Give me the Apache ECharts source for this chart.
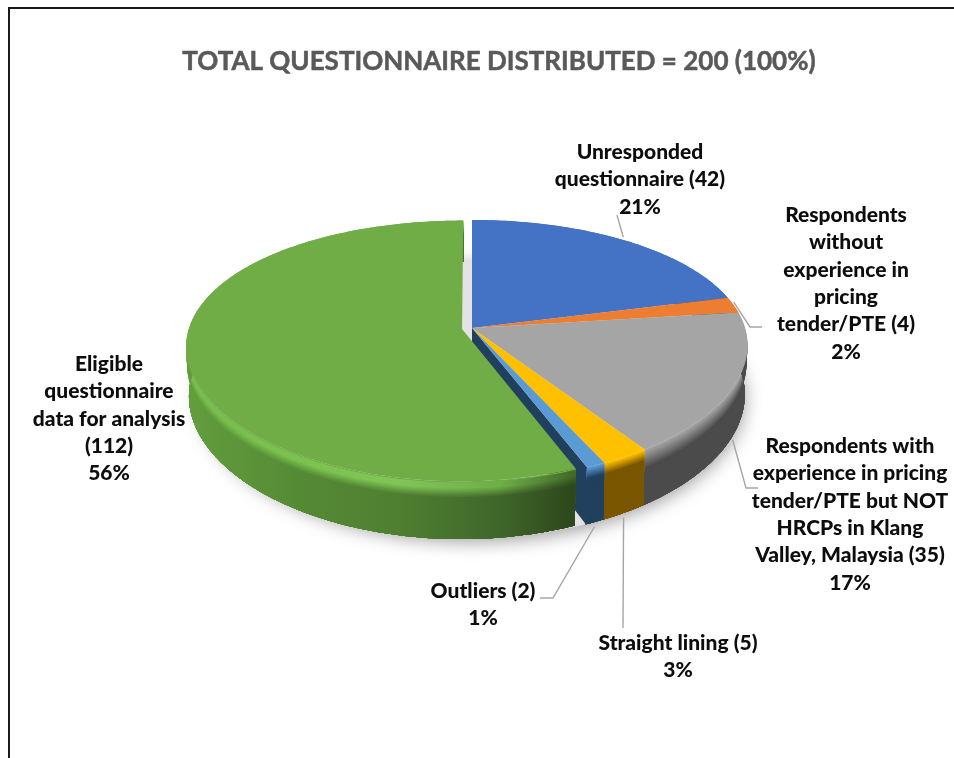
<!DOCTYPE html>
<html>
<head>
<meta charset="utf-8">
<style>html,body{margin:0;padding:0;background:#fff}#chart{width:954px;height:758px}</style>
<script src="https://cdn.jsdelivr.net/npm/echarts@6/dist/echarts.min.js"></script>
</head>
<body>
<div id="chart"></div>
<script>
// Questionnaire breakdown, clockwise from twelve o'clock.
const chartTitle = 'TOTAL QUESTIONNAIRE DISTRIBUTED = 200 (100%)';
const categories = [
  'Unresponded\nquestionnaire (42)',
  'Respondents\nwithout\nexperience in\npricing\ntender/PTE (4)',
  'Respondents with\nexperience in pricing\ntender/PTE but NOT\nHRCPs in Klang\nValley, Malaysia (35)',
  'Straight lining (5)',
  'Outliers (2)',
  'Eligible\nquestionnaire\ndata for analysis\n(112)'
];
const values = [42, 4, 35, 5, 2, 112];
const percentLabels = ['21%', '2%', '17%', '3%', '1%', '56%'];

// Surface colours of each slice.
const topColors = ['#4472c4', '#ed7d31', '#a5a5a5', '#ffc000', '#5b9bd5', '#70ad47'];
const wallColors = ['#2a4578', '#8f4b1c', '#4b4b4b', '#7a5600', '#21405e', '#3f6a28'];

// Rim shading of the large slice, by screen x: [x, highlight, body].
const greenRim = [
  [185, '#76bd4c', '#639e3e'], [300, '#7cc250', '#558a35'], [400, '#80c556', '#4f7f31'],
  [500, '#6fae48', '#3f662a'], [578, '#3e6626', '#2c461a']
];

// Tilted-disc projection of the pie plane.
const disc = { cx: 472, cy: 328, rx: 273, ry: 126.3, tilt: 0.169, tiltX: 0.135, depth: 48, shrink: 0.01 };
const explodedIndex = 5;
const explodeBy = 0.037;

// Label blocks: centre x, first-line centre y; leader elbows after the rim anchor.
const labelLayout = [
  { x: 640, y: 152, rim: 0, elbows: [[617, 215]] },
  { x: 846, y: 215, rim: 0, elbows: [[750, 327], [762, 327]] },
  { x: 850, y: 446, rim: 1, elbows: [[746, 488], [758, 488]] },
  { x: 678, y: 643, rim: 1, elbows: [[623, 628]] },
  { x: 483, y: 591, rim: 1, elbows: [[553, 598], [540, 598]] },
  { x: 109, y: 364, rim: null, elbows: [] }
];
const labelLineHeight = 27.4;
const labelFont = { fontFamily: 'Lato', fontWeight: 900, fontSize: 21 };

const total = values.reduce((a, b) => a + b, 0);
const spans = [];
values.reduce((acc, v) => {
  spans.push([acc / total * 2 * Math.PI, (acc + v) / total * 2 * Math.PI]);
  return acc + v;
}, 0);

// Plane coordinates (u right, v away) plus depth below the surface -> screen pixels.
function project(u, v, d) {
  const w = 1 + disc.tilt * v;
  const wx = 1 + disc.tiltX * v;
  const s = 1 - disc.shrink * d / disc.depth;
  return [disc.cx + disc.rx * u * s / wx, disc.cy - disc.ry * v / w + d / w];
}
function offsetOf(i) {
  if (i !== explodedIndex) return [0, 0];
  const mid = (spans[i][0] + spans[i][1]) / 2;
  return [Math.sin(mid) * explodeBy, Math.cos(mid) * explodeBy];
}
function arc(i, d) {
  const [a0, a1] = spans[i];
  const [ox, oy] = offsetOf(i);
  const n = Math.max(2, Math.ceil((a1 - a0) / (Math.PI / 180)));
  const pts = [];
  for (let k = 0; k <= n; k++) {
    const a = a0 + (a1 - a0) * k / n;
    pts.push(project(Math.sin(a) + ox, Math.cos(a) + oy, d));
  }
  return pts;
}
function hex(c) { return [1, 3, 5].map(p => parseInt(c.substr(p, 2), 16)); }
function mix(a, b, t) {
  const x = hex(a), y = hex(b);
  return 'rgb(' + x.map((c, j) => Math.round(c + (y[j] - c) * t)).join(',') + ')';
}

// Rim colour at depth d: a soft roll-off from the face into the wall.
function rimFill(i, d) {
  if (i === explodedIndex) {
    const stops = greenRim.map(([x, hi, body]) => {
      let c;
      if (d < 1) c = mix(topColors[i], hi, d);
      else if (d < 5) c = mix(hi, hi, 0);
      else c = mix(hi, body, Math.min(1, (d - 5) / 8));
      return { offset: (x - 185) / (578 - 185), color: c };
    });
    return new echarts.graphic.LinearGradient(185, 0, 578, 0, stops, true);
  }
  const bevel = i === 2 ? 16 : 9;
  return mix(topColors[i], wallColors[i], Math.min(1, d / bevel));
}

function renderSlice(params) {
  const i = params.dataIndex;
  const children = [];
  if (i === 0) {
    // Ground shadow of the whole disc.
    const ring = [];
    for (let k = 0; k < 180; k++) {
      const a = k / 180 * 2 * Math.PI;
      ring.push(project(Math.sin(a), Math.cos(a), disc.depth));
    }
    children.push({
      type: 'polygon', shape: { points: ring },
      style: { fill: '#e3e3e3', shadowBlur: 18, shadowColor: 'rgba(0,0,0,0.38)', shadowOffsetY: 4 }
    });
  }
  if (i === explodedIndex - 1) {
    // Cut face left exposed by the pulled-out slice.
    const end = arc(i, 0).pop();
    const endLow = arc(i, disc.depth).pop();
    children.push({
      type: 'polygon',
      shape: { points: [project(0, 0, 0), end, endLow, project(0, 0, disc.depth)] },
      style: { fill: wallColors[i] }
    });
  }
  const low = arc(i, disc.depth).reverse();
  for (let d = 0; d <= 18; d += 1) {
    children.push({
      type: 'polygon',
      shape: { points: arc(i, d).concat(low) },
      style: { fill: rimFill(i, d) }
    });
  }
  const [ox, oy] = offsetOf(i);
  children.push({
    type: 'polygon',
    shape: { points: [project(ox, oy, 0)].concat(arc(i, 0)) },
    style: { fill: topColors[i] }
  });
  return { type: 'group', children };
}

function renderLabel(params) {
  const i = params.dataIndex;
  const spot = labelLayout[i];
  const children = [];
  if (spot.rim !== null) {
    const mid = (spans[i][0] + spans[i][1]) / 2;
    const d = spot.rim ? disc.depth + 4 : -3;
    const start = project(Math.sin(mid), Math.cos(mid), d);
    children.push({
      type: 'polyline',
      shape: { points: [start].concat(spot.elbows) },
      style: { fill: null, stroke: '#a6a6a6', lineWidth: 1.4 }
    });
  }
  children.push({
    type: 'text',
    style: Object.assign({
      text: categories[i] + '\n' + percentLabels[i],
      x: spot.x, y: spot.y - labelLineHeight / 2,
      align: 'center', verticalAlign: 'top',
      lineHeight: labelLineHeight, fill: '#0d0d0d'
    }, labelFont)
  });
  return { type: 'group', children };
}

const chart = echarts.init(document.getElementById('chart'), null, { renderer: 'canvas' });
chart.setOption({
  animation: false,
  backgroundColor: '#ffffff',
  title: {
    text: chartTitle,
    left: 494, top: 44, textAlign: 'center',
    textStyle: {
      fontFamily: 'Lato', fontWeight: 'bold', fontSize: 26, color: '#595959',
      textBorderColor: '#595959', textBorderWidth: 0.5
    }
  },
  graphic: [{
    type: 'polyline', silent: true,
    shape: { points: [[9, 758], [9, 8], [954, 8]] },
    style: { fill: null, stroke: '#1a1a1a', lineWidth: 2 }
  }],
  series: [
    { type: 'custom', coordinateSystem: 'none', silent: true, renderItem: renderSlice, data: values, z: 2 },
    { type: 'custom', coordinateSystem: 'none', silent: true, renderItem: renderLabel, data: values, z: 3 }
  ]
});
</script>
</body>
</html>
